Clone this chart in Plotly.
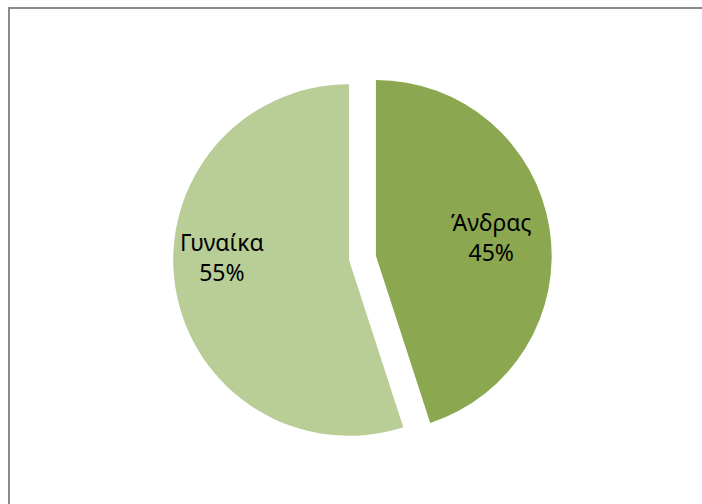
import plotly.graph_objects as go

# Gender split
labels = ["Άνδρας", "Γυναίκα"]
values = [45, 55]
colors = ["#8BA74F", "#B9CD96"]
pulls = [0.155, 0.0]

W, H = 702, 504

# Pie domain in pixels (square), converted to paper fractions
dom_x = (146 / W, 552 / W)
dom_y = (1 - 463 / H, 1 - 57 / H)

fig = go.Figure(
    go.Pie(
        labels=labels,
        values=values,
        marker=dict(colors=colors, line=dict(width=0)),
        pull=pulls,
        sort=False,
        direction="clockwise",
        rotation=0,
        textinfo="none",
        hoverinfo="label+percent",
        showlegend=False,
        domain=dict(x=list(dom_x), y=list(dom_y)),
    )
)

# Slice labels with percentages computed from the values
total = sum(values)
label_pos = {"Άνδρας": (492, 237), "Γυναίκα": (222, 257)}
for lab, val in zip(labels, values):
    px, py = label_pos[lab]
    fig.add_annotation(
        x=px / W, y=1 - py / H, xref="paper", yref="paper",
        text=f"{lab}<br>{round(100 * val / total)}%",
        showarrow=False,
        font=dict(family="Noto Sans, DejaVu Sans, sans-serif", size=23, color="#000000"),
        align="center", xanchor="center", yanchor="middle",
    )

# Chart-area frame
fig.add_shape(
    type="rect", xref="paper", yref="paper",
    x0=9 / W, x1=1.05, y0=-0.05, y1=1 - 8 / H,
    line=dict(color="#8A8A8A", width=2),
    fillcolor="rgba(0,0,0,0)",
)

fig.update_layout(
    width=W, height=H,
    margin=dict(l=0, r=0, t=0, b=0),
    paper_bgcolor="#FFFFFF",
    plot_bgcolor="#FFFFFF",
)

fig.write_html("out.html")
